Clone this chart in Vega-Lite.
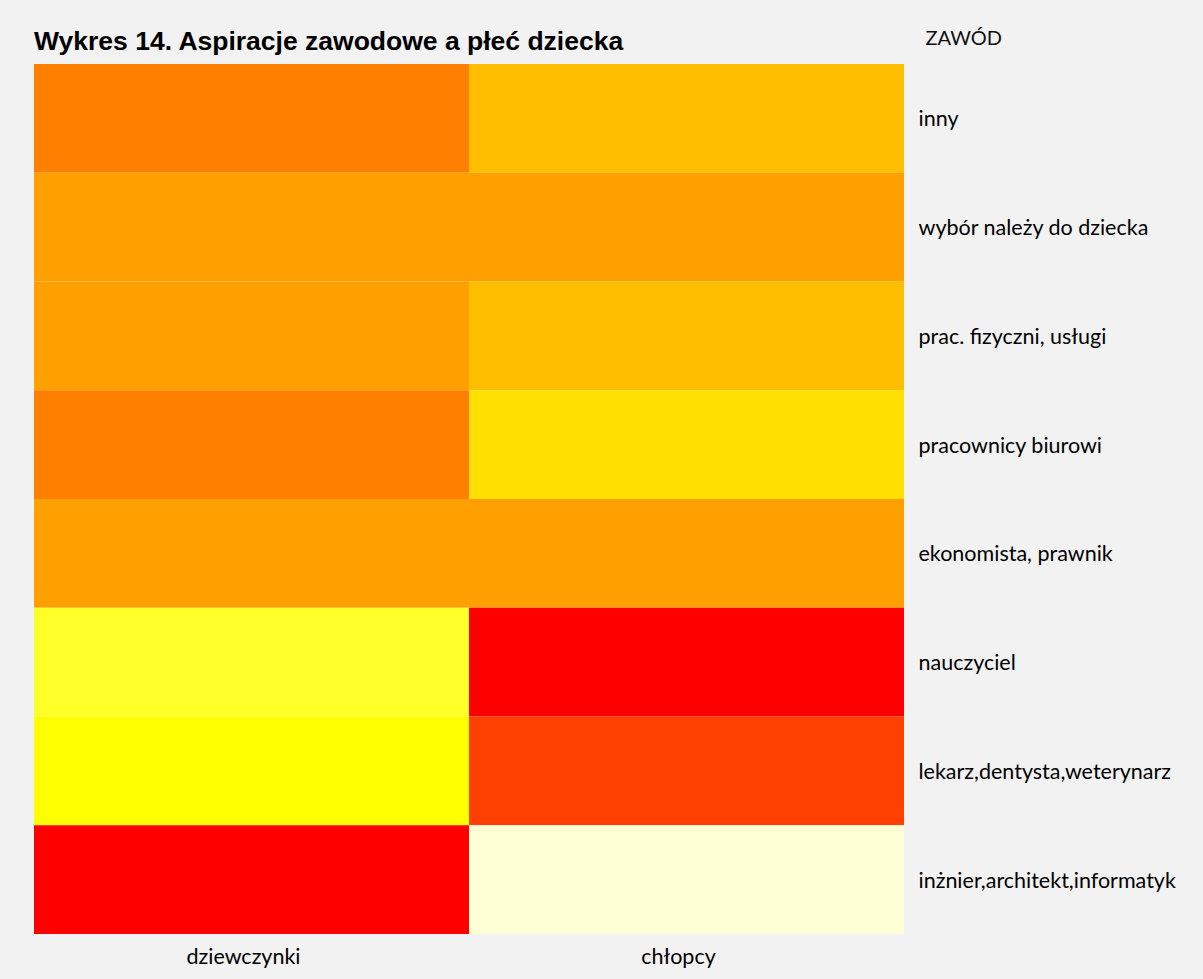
{
  "$schema": "https://vega.github.io/schema/vega-lite/v6.json",
  "autosize": {"type": "none"},
  "padding": {"left": 34, "top": 64, "right": 299, "bottom": 45},
  "width": 870,
  "height": 870,
  "background": "#f2f2f2",
  "title": {
    "text": "Wykres 14. Aspiracje zawodowe a płeć dziecka",
    "anchor": "start",
    "frame": "group",
    "font": "Liberation Sans",
    "fontSize": 26.5,
    "fontWeight": "bold",
    "color": "#000000",
    "offset": 12,
    "dy": 39
  },
  "data": {
    "values": [
      {"plec": "dziewczynki", "zawod": "inny", "poziom": 5},
      {"plec": "dziewczynki", "zawod": "wybór należy do dziecka", "poziom": 6},
      {"plec": "dziewczynki", "zawod": "prac. fizyczni, usługi", "poziom": 6},
      {"plec": "dziewczynki", "zawod": "pracownicy biurowi", "poziom": 5},
      {"plec": "dziewczynki", "zawod": "ekonomista, prawnik", "poziom": 6},
      {"plec": "dziewczynki", "zawod": "nauczyciel", "poziom": 10},
      {"plec": "dziewczynki", "zawod": "lekarz,dentysta,weterynarz", "poziom": 9},
      {"plec": "dziewczynki", "zawod": "inżnier,architekt,informatyk", "poziom": 1},
      {"plec": "chłopcy", "zawod": "inny", "poziom": 7},
      {"plec": "chłopcy", "zawod": "wybór należy do dziecka", "poziom": 6},
      {"plec": "chłopcy", "zawod": "prac. fizyczni, usługi", "poziom": 7},
      {"plec": "chłopcy", "zawod": "pracownicy biurowi", "poziom": 8},
      {"plec": "chłopcy", "zawod": "ekonomista, prawnik", "poziom": 6},
      {"plec": "chłopcy", "zawod": "nauczyciel", "poziom": 1},
      {"plec": "chłopcy", "zawod": "lekarz,dentysta,weterynarz", "poziom": 3},
      {"plec": "chłopcy", "zawod": "inżnier,architekt,informatyk", "poziom": 12}
    ]
  },
  "mark": {"type": "rect"},
  "encoding": {
    "x": {
      "field": "plec",
      "type": "nominal",
      "sort": null,
      "scale": {"paddingInner": 0, "paddingOuter": 0},
      "axis": {
        "title": null,
        "labelAngle": 0,
        "domain": false,
        "ticks": false,
        "labelFont": "Lato",
        "labelFontSize": 21.5,
        "labelColor": "#000000",
        "labelPadding": 12,
        "labelOffset": -8
      }
    },
    "y": {
      "field": "zawod",
      "type": "nominal",
      "sort": null,
      "scale": {"paddingInner": 0, "paddingOuter": 0},
      "axis": {
        "orient": "right",
        "title": "ZAWÓD",
        "titleAngle": 0,
        "titleAlign": "left",
        "titleBaseline": "middle",
        "titleX": 21,
        "titleY": -26,
        "titleFont": "Lato",
        "titleFontSize": 20,
        "titleFontWeight": "normal",
        "titleColor": "#111111",
        "domain": false,
        "ticks": false,
        "labelFont": "Lato",
        "labelFontSize": 21.5,
        "labelLimit": 0,
        "labelColor": "#000000",
        "labelAlign": "left",
        "labelPadding": 14,
        "labelOffset": 2
      }
    },
    "color": {
      "field": "poziom",
      "type": "ordinal",
      "legend": null,
      "scale": {
        "domain": [1, 2, 3, 4, 5, 6, 7, 8, 9, 10, 11, 12],
        "range": ["#FF0000", "#FF2000", "#FF4000", "#FF6000", "#FF8000", "#FF9F00", "#FFBF00", "#FFDF00", "#FFFF00", "#FFFF2A", "#FFFF80", "#FFFFD5"]
      }
    }
  },
  "config": {"view": {"stroke": null}}
}
